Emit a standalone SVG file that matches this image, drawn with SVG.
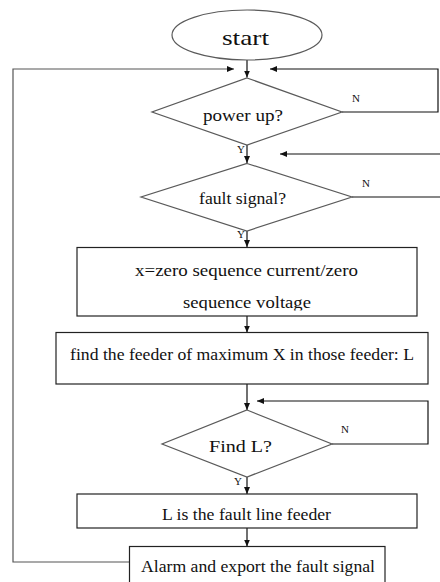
<svg xmlns="http://www.w3.org/2000/svg" width="440" height="582" viewBox="0 0 440 582">
<style>
.bg{fill:#fff}
.shape{fill:#fff;stroke:#5a5a5a;stroke-width:1.2}
.box{fill:#fff;stroke:#222;stroke-width:1.2}
.conn{fill:none;stroke:#111;stroke-width:1.2}
.gray{stroke:#555}
text{font-family:"Liberation Serif","Times New Roman",serif;fill:#111}
.t{font-size:17px;text-anchor:start}
.yn{font-size:11px}
</style>
<defs>
<marker id="ah" markerWidth="7" markerHeight="6" refX="7" refY="3" orient="auto" markerUnits="userSpaceOnUse">
<path d="M0,0 L7,3 L0,6 Z" fill="#111"/>
</marker>
<clipPath id="clip1"><rect x="77" y="247" width="340" height="63.5"/></clipPath>
</defs>
<rect class="bg" x="0" y="0" width="440" height="582"/>

<g id="connectors">
<path class="conn" d="M247,60 V77.5" marker-end="url(#ah)"/>
<path class="conn gray" d="M130,562 H13 V69 H234" marker-end="url(#ah)"/>
<path class="conn" d="M342,112 H438 V69 H270" marker-end="url(#ah)"/>
<path class="conn" d="M247,145 V163" marker-end="url(#ah)"/>
<path class="conn" d="M441,154 H280" marker-end="url(#ah)"/>
<path class="conn" d="M352,197 H441"/>
<path class="conn" d="M247,231 V247" marker-end="url(#ah)"/>
<path class="conn" d="M247,316 V332.5" marker-end="url(#ah)"/>
<path class="conn" d="M247,384 V410" marker-end="url(#ah)"/>
<path class="conn" d="M332,444 H428 V401 H257" marker-end="url(#ah)"/>
<path class="conn" d="M247,477 V494" marker-end="url(#ah)"/>
<path class="conn" d="M247,528 V546.5" marker-end="url(#ah)"/>
</g>

<g id="start">
<ellipse class="shape" cx="247" cy="35" rx="75" ry="25"/>
<text x="222" y="44.5" font-size="22" textLength="47" lengthAdjust="spacingAndGlyphs">start</text>
</g>

<g id="power-up">
<polygon class="shape" points="247,78 342,112 247,145 152,112"/>
<text class="t" x="203" y="120.5" textLength="80" lengthAdjust="spacingAndGlyphs">power up?</text>
<text class="yn" x="352" y="102">N</text>
<text class="yn" x="237" y="153">Y</text>
</g>

<g id="fault-signal">
<polygon class="shape" points="247,163.5 352,197 247,231 141,197"/>
<text class="t" x="199" y="203.5" textLength="87" lengthAdjust="spacingAndGlyphs">fault signal?</text>
<text class="yn" x="362" y="187">N</text>
<text class="yn" x="237" y="238">Y</text>
</g>

<g id="compute-x">
<rect class="box" x="77" y="247.5" width="340" height="68.5"/>
<text class="t" x="135" y="275.5" textLength="223" lengthAdjust="spacingAndGlyphs">x=zero sequence current/zero</text>
<text class="t" x="183" y="308" textLength="128" lengthAdjust="spacingAndGlyphs" clip-path="url(#clip1)">sequence voltage</text>
</g>

<g id="find-feeder">
<rect class="box" x="56" y="332.5" width="372" height="51.5"/>
<text class="t" x="70" y="359.5" textLength="344" lengthAdjust="spacingAndGlyphs">find the feeder of maximum X in those feeder: L</text>
</g>

<g id="find-l">
<polygon class="shape" points="247,410 332,444 247,477 162,444"/>
<text class="t" x="209" y="451.7" textLength="63" lengthAdjust="spacingAndGlyphs">Find L?</text>
<text class="yn" x="341" y="433">N</text>
<text class="yn" x="234" y="485">Y</text>
</g>

<g id="fault-line">
<rect class="box" x="77" y="494" width="340" height="34"/>
<text class="t" x="162" y="520" textLength="169" lengthAdjust="spacingAndGlyphs">L is the fault line feeder</text>
</g>

<g id="alarm">
<rect class="box" x="129.5" y="546.5" width="255.5" height="45"/>
<text class="t" x="141" y="571.7" textLength="234" lengthAdjust="spacingAndGlyphs">Alarm and export the fault signal</text>
</g>
</svg>
